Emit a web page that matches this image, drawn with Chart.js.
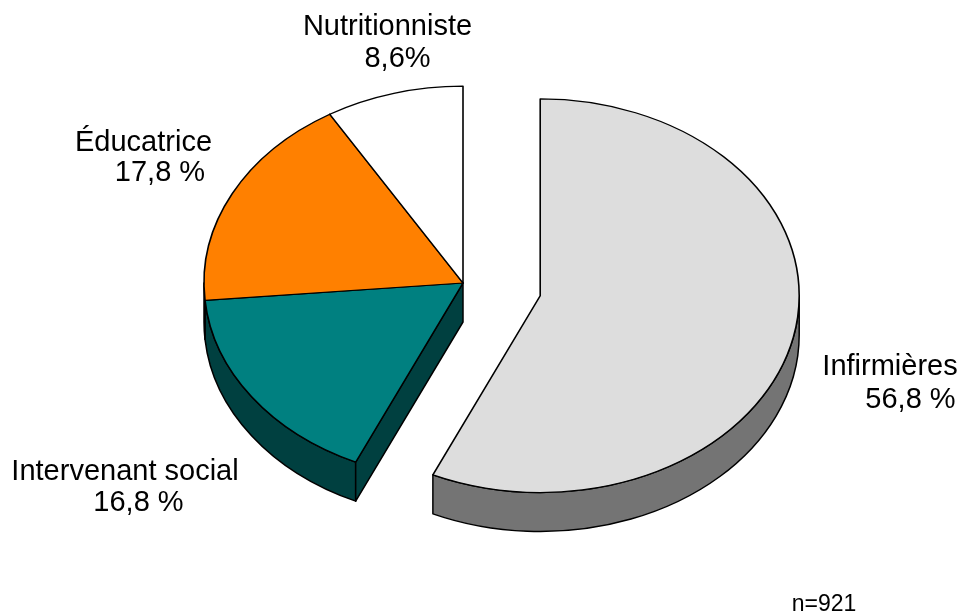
<!DOCTYPE html>
<html><head><meta charset="utf-8">
<script src="https://cdn.jsdelivr.net/npm/chart.js@4/dist/chart.umd.min.js"></script>
<style>html,body{margin:0;padding:0;background:#fff;overflow:hidden}canvas{display:block}</style>
</head><body>
<canvas id="c" width="961" height="612"></canvas>
<script>
// ---- data ----
const categories = ['Infirmières', 'Intervenant social', 'Éducatrice', 'Nutritionniste'];
const shares = [56.8, 16.8, 17.8, 8.6];
const shareLabels = ['56,8 %', '16,8 %', '17,8 %', '8,6%'];
const sampleNote = 'n=921';

// ---- styles ----
const topColors = ['#dddddd', '#008080', '#ff8000', '#ffffff'];
const sideColors = ['#747474', '#004040', '#804000', '#d0d0d0'];
const TILT = 0.76, DEPTH = 39, EXPLODE = 79, EXPLODED_INDEX = 0;
const FONT = '29px "Liberation Sans", Arial, sans-serif';
const NOTE_FONT = '23px "Liberation Sans", Arial, sans-serif';
// [name center x, name baseline, value center x, value baseline]
const labelPos = [[890, 375, 910.5, 408], [125, 480, 138.5, 511], [143.5, 151, 160, 181], [387.5, 35, 397.5, 67]];
const notePos = [824, 611];

const tiltPlugin = {
  id: 'tilt3d',
  afterUpdate(chart) {
    const el = chart.getDatasetMeta(0).data[EXPLODED_INDEX];
    const mid = (el.startAngle + el.endAngle) / 2;
    el.x += EXPLODE * Math.cos(mid);
    el.y += EXPLODE * Math.sin(mid);
  },
  beforeDatasetsDraw(chart) {
    const ctx = chart.ctx;
    const cy = (chart.chartArea.top + chart.chartArea.bottom) / 2;
    const arcs = chart.getDatasetMeta(0).data;
    const n = arcs.length;
    ctx.save();
    ctx.lineWidth = 1.5; ctx.strokeStyle = '#000'; ctx.lineJoin = 'round';
    arcs.forEach((el, i) => {
      const R = el.outerRadius, cx = el.x, cys = cy + (el.y - cy) * TILT, Ry = R * TILT;
      const a1 = Math.max(el.startAngle, 0), a2 = Math.min(el.endAngle, Math.PI);
      if (a2 > a1) {
        ctx.beginPath();
        ctx.ellipse(cx, cys, R, Ry, 0, a1, a2);
        ctx.lineTo(cx + R * Math.cos(a2), cys + Ry * Math.sin(a2) + DEPTH);
        ctx.ellipse(cx, cys + DEPTH, R, Ry, 0, a2, a1, true);
        ctx.closePath();
        ctx.fillStyle = sideColors[i]; ctx.fill(); ctx.stroke();
      }
      // radial cut faces next to the exploded gap
      const faces = [];
      const prevExploded = ((i - 1 + n) % n) === EXPLODED_INDEX;
      const nextExploded = ((i + 1) % n) === EXPLODED_INDEX;
      if (prevExploded || i === EXPLODED_INDEX) faces.push([el.startAngle, el.startAngle - Math.PI / 2]);
      if (nextExploded || i === EXPLODED_INDEX) faces.push([el.endAngle, el.endAngle + Math.PI / 2]);
      faces.forEach(([a, nrm]) => {
        if (Math.sin(nrm) <= 0.01) return;
        const px = cx + R * Math.cos(a), py = cys + Ry * Math.sin(a);
        ctx.beginPath();
        ctx.moveTo(cx, cys); ctx.lineTo(px, py); ctx.lineTo(px, py + DEPTH); ctx.lineTo(cx, cys + DEPTH);
        ctx.closePath();
        ctx.fillStyle = sideColors[i]; ctx.fill(); ctx.stroke();
      });
    });
    ctx.restore();
    ctx.save();
    ctx.translate(0, cy); ctx.scale(1, TILT); ctx.translate(0, -cy);
  },
  afterDatasetsDraw(chart) { chart.ctx.restore(); },
  afterDraw(chart) {
    const ctx = chart.ctx;
    ctx.save();
    ctx.fillStyle = '#000'; ctx.textAlign = 'center'; ctx.textBaseline = 'alphabetic';
    ctx.font = FONT;
    categories.forEach((c, i) => {
      const p = labelPos[i];
      ctx.fillText(c, p[0], p[1]);
      ctx.fillText(shareLabels[i], p[2], p[3]);
    });
    ctx.font = NOTE_FONT;
    ctx.fillText(sampleNote, notePos[0], notePos[1]);
    ctx.restore();
  }
};

new Chart(document.getElementById('c'), {
  type: 'pie',
  data: {
    labels: categories,
    datasets: [{
      data: shares,
      backgroundColor: topColors,
      borderColor: '#000',
      borderWidth: 1.6,
      borderJoinStyle: 'round',
      clip: false
    }]
  },
  options: {
    responsive: false,
    devicePixelRatio: 1,
    animation: false,
    events: [],
    radius: 259,
    layout: { padding: { left: 0, right: 35, top: 0, bottom: 46 } },
    plugins: { legend: { display: false }, tooltip: { enabled: false } }
  },
  plugins: [tiltPlugin]
});
</script>
</body></html>
